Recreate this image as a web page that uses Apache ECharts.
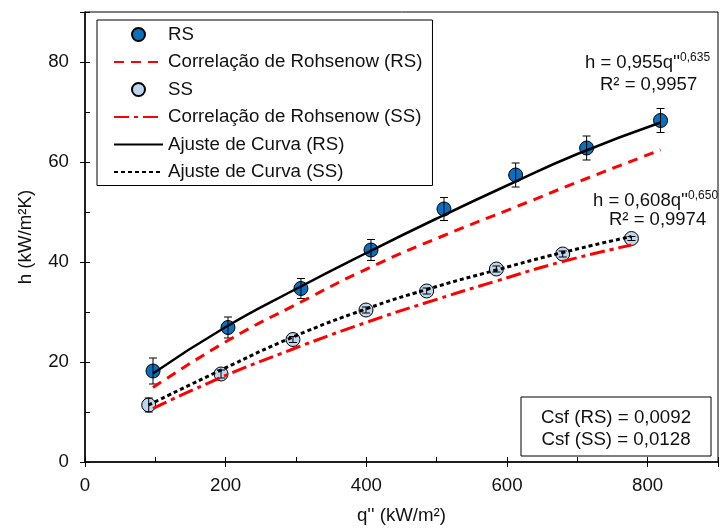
<!DOCTYPE html>
<html><head><meta charset="utf-8">
<script src="https://cdn.jsdelivr.net/npm/echarts@6/dist/echarts.min.js"></script>
<style>html,body{margin:0;padding:0;background:#fff}#c{width:721px;height:530px}</style>
</head><body><div id="c"></div>
<script>
// ---- data ----
const xTicks = [0, 200, 400, 600, 800];
const yTicks = [0, 20, 40, 60, 80];
const rsQ = [96.7, 203.3, 307, 406.6, 510.4, 612.3, 713.2, 818.3];
const rsH = [18.2, 26.9, 34.7, 42.4, 50.6, 57.4, 62.8, 68.3];
const rsErr = [2.6, 2.1, 2.0, 2.1, 2.3, 2.4, 2.4, 2.4];
const ssQ = [90.6, 193.4, 295.7, 399.5, 485.8, 584.9, 679.2, 776.9];
const ssH = [11.4, 17.6, 24.5, 30.4, 34.2, 38.6, 41.6, 44.7];
const ssErr = [1.4, 0.8, 0.6, 0.6, 0.6, 0.6, 0.6, 0.4];
const rohRsQ = [96.7, 203.3, 307, 406.6, 510.4, 612.3, 713.2, 818.3];
const rohRsH = [14.9, 24.3, 32.0, 39.0, 45.3, 51.0, 56.7, 62.4];
const rohSsQ = [96.7, 193.4, 295.7, 399.5, 485.8, 584.9, 679.2, 776.9];
const rohSsH = [10.7, 16.9, 22.6, 27.9, 31.9, 36.2, 40.1, 43.4];
const fitRsQ = [96.7, 200, 300, 400, 500, 600, 700, 818.3];
const fitRsH = [17.7, 27.0, 34.6, 41.8, 48.7, 55.3, 61.6, 67.9];
const fitSsQ = [90.6, 193.4, 295.7, 399.5, 485.8, 584.9, 679.2, 776.9];
const fitSsH = [11.4, 18.4, 25.0, 30.6, 34.5, 38.4, 41.9, 45.1];
const names = ['RS', 'Correlação de Rohsenow (RS)', 'SS', 'Correlação de Rohsenow (SS)', 'Ajuste de Curva (RS)', 'Ajuste de Curva (SS)'];
const lineNames = names.filter(n => n !== 'RS' && n !== 'SS');

const zip = (a, b) => a.map((v, i) => [v, b[i]]);
const FONT = '"Liberation Sans", Arial, sans-serif';
const TXT = '#111';
const FS = 18.7;

function errData(q, h, e) { return q.map((v, i) => [v, h[i] - e[i], h[i] + e[i]]); }
function errRender(params, api) {
  const x = api.value(0), lo = api.value(1), hi = api.value(2);
  const p1 = api.coord([x, hi]), p2 = api.coord([x, lo]);
  const w = 4;
  const st = { stroke: '#000', lineWidth: 1 };
  return { type: 'group', children: [
    { type: 'line', shape: { x1: p1[0], y1: p1[1], x2: p2[0], y2: p2[1] }, style: st },
    { type: 'line', shape: { x1: p1[0] - w, y1: p1[1], x2: p1[0] + w, y2: p1[1] }, style: st },
    { type: 'line', shape: { x1: p2[0] - w, y1: p2[1], x2: p2[0] + w, y2: p2[1] }, style: st }
  ]};
}

const chart = echarts.init(document.getElementById('c'), null, { renderer: 'canvas' });
chart.setOption({
  animation: false,
  backgroundColor: '#fff',
  textStyle: { fontFamily: FONT },
  grid: { left: 85, right: 0, top: 12, bottom: 64, show: true, borderColor: '#000', borderWidth: 1 },
  xAxis: [{
    type: 'value', min: 0, max: 900, interval: 200,
    name: "q'' (kW/m²)", nameLocation: 'middle', nameGap: 44,
    nameTextStyle: { fontSize: FS, color: TXT, fontFamily: FONT },
    axisLine: { lineStyle: { color: '#000', width: 1.5 } },
    axisTick: { inside: false, length: 5, lineStyle: { color: '#000' } },
    axisLabel: { fontSize: FS, color: TXT, margin: 14, fontFamily: FONT,
      formatter: v => xTicks.includes(v) ? String(v) : '' },
    splitLine: { show: false }
  }, {
    type: 'value', min: 0, max: 900, interval: 100, position: 'bottom',
    axisLine: { show: false }, axisLabel: { show: false }, splitLine: { show: false },
    axisTick: { inside: true, length: 5, lineStyle: { color: '#000' } }
  }],
  yAxis: [{
    type: 'value', min: 0, max: 90, interval: 20,
    name: 'h (kW/m²K)', nameLocation: 'middle', nameGap: 50,
    nameTextStyle: { fontSize: FS, color: TXT, fontFamily: FONT },
    axisLine: { lineStyle: { color: '#000', width: 1.5 } },
    axisTick: { inside: false, length: 5, lineStyle: { color: '#000' } },
    axisLabel: { fontSize: FS, color: TXT, margin: 16, fontFamily: FONT,
      formatter: v => yTicks.includes(v) ? String(v) : '' },
    splitLine: { show: false }
  }, {
    type: 'value', min: 0, max: 90, interval: 10, position: 'left',
    axisLine: { show: false }, axisLabel: { show: false }, splitLine: { show: false },
    axisTick: { inside: true, length: 5, lineStyle: { color: '#000' } }
  }],
  legend: {
    orient: 'vertical', left: 97, top: 20,
    padding: [5, 10, 4, 16],
    itemGap: 8.5, itemWidth: 49, itemHeight: 13,
    borderColor: '#000', borderWidth: 1, backgroundColor: '#fff',
    textStyle: { fontSize: FS, color: TXT, fontFamily: FONT, lineHeight: 16 },
    data: names.map(n => lineNames.includes(n) ? { name: n, itemStyle: { opacity: 0 } } : { name: n })
  },
  series: [
    { name: 'RS', type: 'scatter', data: zip(rsQ, rsH), symbol: 'circle', symbolSize: 14, z: 2,
      itemStyle: { color: '#0B6FC0', borderColor: '#000', borderWidth: 1, opacity: 1 } },
    { name: 'SS', type: 'scatter', data: zip(ssQ, ssH), symbol: 'circle', symbolSize: 14, z: 2,
      itemStyle: { color: '#BDD7EE', borderColor: '#000', borderWidth: 1, opacity: 1 } },
    { name: 'errRS', type: 'custom', data: errData(rsQ, rsH, rsErr), renderItem: errRender, z: 3, silent: true },
    { name: 'errSS', type: 'custom', data: errData(ssQ, ssH, ssErr), renderItem: errRender, z: 3, silent: true },
    { name: 'Correlação de Rohsenow (RS)', type: 'line', data: zip(rohRsQ, rohRsH), smooth: true,
      symbol: 'none', showSymbol: false, z: 4,
      lineStyle: { color: '#FF0000', width: 3, type: [10, 7] }, itemStyle: { color: '#FF0000' } },
    { name: 'Correlação de Rohsenow (SS)', type: 'line', data: zip(rohSsQ, rohSsH), smooth: true,
      symbol: 'none', showSymbol: false, z: 4,
      lineStyle: { color: '#FF0000', width: 3, type: [15, 5, 4, 5] }, itemStyle: { color: '#FF0000' } },
    { name: 'Ajuste de Curva (RS)', type: 'line', data: zip(fitRsQ, fitRsH), smooth: true,
      symbol: 'none', showSymbol: false, z: 5,
      lineStyle: { color: '#000', width: 2.5, type: 'solid' }, itemStyle: { color: '#000' } },
    { name: 'Ajuste de Curva (SS)', type: 'line', data: zip(fitSsQ, fitSsH), smooth: true,
      symbol: 'none', showSymbol: false, z: 5,
      lineStyle: { color: '#000', width: 3, type: [4, 3] }, itemStyle: { color: '#000' } }
  ],
  graphic: [
    { type: 'text', left: 585, top: 52, z: 100,
      style: { text: "{a|h = 0,955q''}{b|0,635}", rich: {
        a: { fontSize: 18.5, fill: TXT, fontFamily: FONT },
        b: { fontSize: 12, fill: TXT, fontFamily: FONT, padding: [0, 0, 9, 0] } } } },
    { type: 'text', left: 600, top: 75, z: 100,
      style: { text: 'R² = 0,9957', fontSize: 18.5, fill: TXT, fontFamily: FONT } },
    { type: 'text', left: 593, top: 190, z: 100,
      style: { text: "{a|h = 0,608q''}{b|0,650}", rich: {
        a: { fontSize: 18.5, fill: TXT, fontFamily: FONT },
        b: { fontSize: 12, fill: TXT, fontFamily: FONT, padding: [0, 0, 9, 0] } } } },
    { type: 'text', left: 609, top: 210, z: 100,
      style: { text: 'R² = 0,9974', fontSize: 18.5, fill: TXT, fontFamily: FONT } },
    { type: 'rect', shape: { x: 521, y: 397, width: 190, height: 59 }, z: 100,
      style: { fill: '#fff', stroke: '#000', lineWidth: 1 } },
    { type: 'text', x: 616, y: 418, z: 101,
      style: { text: 'Csf (RS) = 0,0092', fontSize: FS, fill: TXT, fontFamily: FONT, align: 'center', verticalAlign: 'middle' } },
    { type: 'text', x: 616, y: 440, z: 101,
      style: { text: 'Csf (SS) = 0,0128', fontSize: FS, fill: TXT, fontFamily: FONT, align: 'center', verticalAlign: 'middle' } }
  ]
});
</script></body></html>
